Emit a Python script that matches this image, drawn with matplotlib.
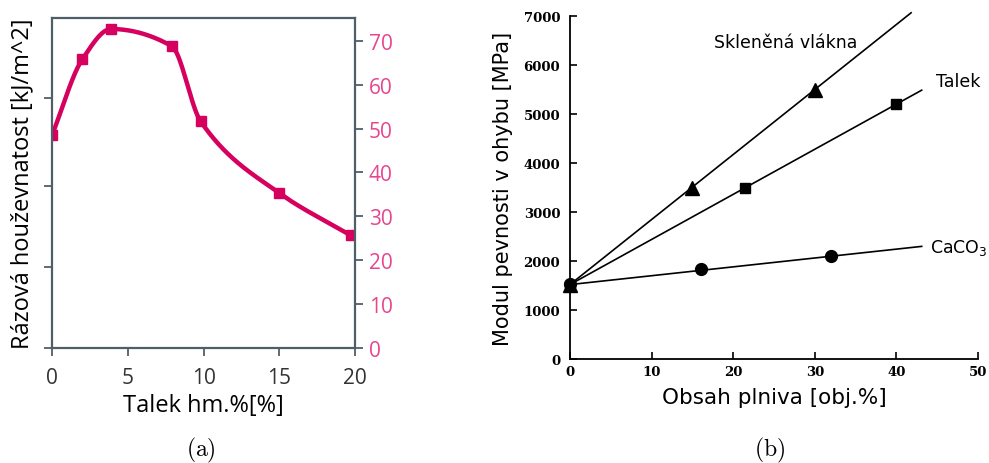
import matplotlib
matplotlib.use("Agg")
import matplotlib.pyplot as plt
import numpy as np

plt.rcParams["mathtext.fontset"] = "cm"

# ---------------------------------------------------------------- data (a)
talc_wt = [0, 2, 3.9, 7.9, 9.8, 15, 19.7]
impact = [48.5, 65.8, 72.7, 68.8, 51.7, 35.3, 25.7]
right_ticks = [0, 10, 20, 30, 40, 50, 60, 70]
left_ticks = [0, 18.4, 36.9, 57.0]      # unlabeled ticks on the left spine

# ---------------------------------------------------------------- data (b)
glass_x = [0, 15, 30]
glass_y = [1520, 3500, 5500]
glass_line_x = [0, 41.8]
glass_line_y = [1520, 7070]

talc_x = [0, 21.5, 40]
talc_y = [1500, 3500, 5200]
talc_line_x = [0, 43.1]
talc_line_y = [1520, 5490]

caco3_x = [0, 16, 32]
caco3_y = [1540, 1830, 2100]
caco3_line_x = [0, 43.1]
caco3_line_y = [1520, 2300]

PINK = "#d6005f"
PINK_TXT = "#e6468f"
SPINE = "#4f5f69"


def pchip(x, y, xs):
    """Shape preserving cubic through the points (numpy only)."""
    x = np.asarray(x, float)
    y = np.asarray(y, float)
    h = np.diff(x)
    d = np.diff(y) / h
    m = np.zeros_like(y)
    for k in range(1, len(x) - 1):
        if d[k - 1] * d[k] > 0:
            w1 = 2 * h[k] + h[k - 1]
            w2 = h[k] + 2 * h[k - 1]
            m[k] = (w1 + w2) / (w1 / d[k - 1] + w2 / d[k])
    m[0] = d[0]
    m[-1] = d[-1]
    idx = np.clip(np.searchsorted(x, xs) - 1, 0, len(h) - 1)
    t = (xs - x[idx]) / h[idx]
    h00 = 2 * t**3 - 3 * t**2 + 1
    h10 = t**3 - 2 * t**2 + t
    h01 = -2 * t**3 + 3 * t**2
    h11 = t**3 - t**2
    return (h00 * y[idx] + h10 * h[idx] * m[idx]
            + h01 * y[idx + 1] + h11 * h[idx] * m[idx + 1])


fig = plt.figure(figsize=(9.89, 4.64), dpi=100)

# ----------------------------------------------------------------- panel a
ax = fig.add_axes([0.0526, 0.2478, 0.3064, 0.7112])
xs = np.linspace(talc_wt[0], talc_wt[-1], 400)
ax.plot(xs, pchip(talc_wt, impact, xs), color=PINK, lw=3.2, solid_capstyle="round")
ax.plot(talc_wt, impact, ls="none", marker="s", ms=7.5, color=PINK)
ax.set_xlim(0, 20)
ax.set_ylim(0, 75.2)
ax.set_xticks([0, 5, 10, 15, 20])
ax.yaxis.tick_right()
ax.set_yticks(right_ticks)
for s in ax.spines.values():
    s.set_color(SPINE)
    s.set_linewidth(1.6)
ax.tick_params(axis="both", direction="out", length=6, width=1.3, color=SPINE)
ax.tick_params(axis="x", labelsize=15, labelcolor="#333333", pad=8)
ax.tick_params(axis="y", labelsize=15, labelcolor=PINK_TXT, pad=4)
for lab in ax.get_xticklabels() + ax.get_yticklabels():
    lab.set_fontfamily("Open Sans")
ax.set_xlabel("Talek hm.%[%]", fontsize=17, family="Open Sans", labelpad=3)

sec = ax.secondary_yaxis("left")
sec.set_yticks(left_ticks)
sec.set_yticklabels([])
sec.spines["left"].set_visible(False)
sec.tick_params(direction="out", length=6, width=1.3, color=SPINE)
sec.set_ylabel("Rázová houževnatost [kJ/m^2]", fontsize=17, family="Open Sans",
               labelpad=3)

fig.text(0.203, 0.03, r"$(\mathrm{a})$", ha="center", va="center", fontsize=17)

# ----------------------------------------------------------------- panel b
bx = fig.add_axes([0.5763, 0.2241, 0.4126, 0.7388])
kw = dict(color="black", lw=1.2, clip_on=False)
bx.plot(glass_line_x, glass_line_y, **kw)
bx.plot(talc_line_x, talc_line_y, **kw)
bx.plot(caco3_line_x, caco3_line_y, **kw)
bx.plot(glass_x, glass_y, ls="none", marker="^", ms=10, color="black", clip_on=False)
bx.plot(talc_x, talc_y, ls="none", marker="s", ms=6.5, color="black", clip_on=False)
bx.plot(caco3_x, caco3_y, ls="none", marker="o", ms=8.5, color="black", clip_on=False)

bx.text(17.6, 6470, "Skleněná vlákna", fontsize=12.5, va="center")
bx.text(44.9, 5680, "Talek", fontsize=12.5, va="center")
bx.text(44.1, 2280, r"CaCO$_3$", fontsize=12.5, va="center",
        math_fontfamily="dejavusans")

bx.set_xlim(0, 50)
bx.set_ylim(0, 7000)
bx.set_xticks([0, 10, 20, 30, 40, 50])
bx.set_yticks(range(0, 7001, 1000))
bx.spines["top"].set_visible(False)
bx.spines["right"].set_visible(False)
for s in ("left", "bottom"):
    bx.spines[s].set_linewidth(1.3)
bx.tick_params(axis="both", direction="in", length=5, width=1.2)
bx.tick_params(axis="x", pad=4)
bx.tick_params(axis="y", pad=7)
for lab in bx.get_xticklabels() + bx.get_yticklabels():
    lab.set_fontfamily("DejaVu Serif")
    lab.set_fontweight("bold")
    lab.set_fontsize(9.5)
bx.set_xlabel("Obsah plniva [obj.%]", fontsize=15.5, labelpad=7)
bx.set_ylabel("Modul pevnosti v ohybu [MPa]", fontsize=15, labelpad=8)

fig.text(0.778, 0.03, r"$(\mathrm{b})$", ha="center", va="center", fontsize=17)

fig.savefig("out.png", dpi=100)
